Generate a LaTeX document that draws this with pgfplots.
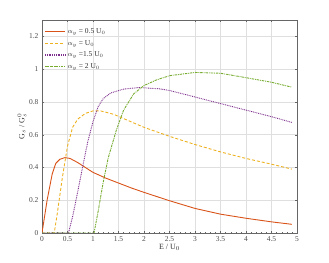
\documentclass[border=0pt]{standalone}
\usepackage{pgfplots}
\pgfplotsset{compat=1.18}
\usepackage{fontspec}
\setmainfont{Liberation Serif}
\definecolor{c1}{HTML}{D95319}
\definecolor{c2}{HTML}{EDB120}
\definecolor{c3}{HTML}{7E2F8E}
\definecolor{c4}{HTML}{77AC30}
\begin{document}
\begin{tikzpicture}
\useasboundingbox (-42bp,-30bp) rectangle (287bp,233bp);
\begin{axis}[
  at={(0,0)}, anchor=south west,
  scale only axis, width=255bp, height=213bp,
  xmin=0, xmax=5, ymin=0, ymax=1.3,
  xtick={0,0.5,...,5}, ytick={0,0.2,...,1.2},
  xticklabels={0,0.5,1,1.5,2,2.5,3,3.5,4,4.5,5},
  yticklabels={0,0.2,0.4,0.6,0.8,1,1.2},
  minor x tick num=4,
  grid=major, grid style={gray!25, line width=0.4pt},
  axis line style={black!60}, tick style={black!60},
  tick align=inside, major tick length=2.5pt, minor tick length=1.2pt,
  tick label style={font=\fontsize{7.5}{8}\selectfont, text=black!70},
  /pgf/number format/assume math mode=true,
  xlabel={E / U$_0$}, ylabel={G$_s$ / G$_s^0$},
  label style={font=\fontsize{8}{9}\selectfont, text=black!80},
  xlabel style={yshift=4pt}, ylabel style={yshift=-4pt},
  legend style={draw=none, fill=none, at={(0.005,0.975)}, anchor=north west,
    font=\fontsize{7.5}{8}\selectfont, row sep=1.2pt, inner sep=1pt, text=black!80},
  legend cell align=left,
  legend image code/.code={\draw[#1, line width=1.2pt] (0cm,0cm) -- (0.7cm,0cm);},
]
\addplot[c1, line width=0.9pt] coordinates {
(0,0) (0.1,0.2) (0.2,0.36) (0.27,0.425) (0.35,0.45) (0.45,0.46) (0.55,0.455)
(0.7,0.43) (0.85,0.40) (1,0.37) (1.25,0.335) (1.5,0.305) (1.75,0.275) (2,0.248)
(2.5,0.197) (3,0.15) (3.5,0.115) (4,0.09) (4.5,0.068) (4.9,0.053)};
\addlegendentry{$\alpha_y$ = 0.5 U$_0$}
\addplot[c2, line width=0.9pt, dash pattern=on 3pt off 2pt] coordinates {
(0,0) (0.24,0) (0.3,0.12) (0.4,0.34) (0.5,0.53) (0.6,0.645) (0.7,0.695)
(0.85,0.73) (1,0.745) (1.15,0.745) (1.4,0.725) (1.7,0.685) (2,0.645)
(2.5,0.59) (3,0.54) (3.5,0.495) (4,0.455) (4.5,0.42) (4.9,0.39)};
\addlegendentry{$\alpha_y$ = U$_0$}
\addplot[c3, line width=0.9pt, dash pattern=on 0.9pt off 0.9pt] coordinates {
(0,0) (0.52,0) (0.6,0.1) (0.7,0.25) (0.8,0.41) (0.9,0.56) (1,0.68)
(1.1,0.77) (1.2,0.82) (1.35,0.855) (1.6,0.878) (1.9,0.888) (2.3,0.88)
(2.5,0.87) (3,0.83) (3.5,0.79) (4,0.75) (4.5,0.71) (4.9,0.675)};
\addlegendentry{$\alpha_y$ =1.5 U$_0$}
\addplot[c4, line width=0.9pt, dash pattern=on 2.5pt off 0.9pt on 0.9pt off 0.9pt] coordinates {
(0,0) (1.02,0) (1.1,0.13) (1.2,0.31) (1.3,0.46) (1.46,0.63) (1.6,0.75)
(1.8,0.85) (2,0.9) (2.25,0.935) (2.5,0.96) (3,0.98) (3.5,0.975)
(4,0.948) (4.5,0.92) (4.9,0.89)};
\addlegendentry{$\alpha_y$ = 2 U$_0$}
\end{axis}
\end{tikzpicture}
\end{document}
